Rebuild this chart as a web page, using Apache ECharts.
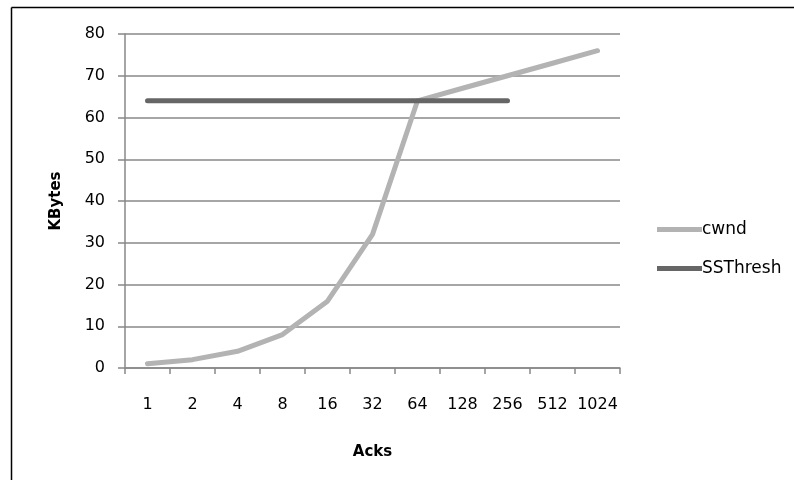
<!DOCTYPE html>
<html>
<head>
<meta charset="utf-8">
<script src="https://cdn.jsdelivr.net/npm/echarts@6/dist/echarts.min.js"></script>
<style>
html,body{margin:0;padding:0;background:#fff;}
#c{width:794px;height:480px;}
</style>
</head>
<body>
<div id="c"></div>
<script>
const categories = ['1','2','4','8','16','32','64','128','256','512','1024'];
const cwnd = [1, 2, 4, 8, 16, 32, 64, 67, 70, 73, 76];
const ssthresh = [64, 64, 64, 64, 64, 64, 64, 64, 64, null, null];
const yTicks = {min: 0, max: 80, interval: 10};

const chart = echarts.init(document.getElementById('c'), null, {renderer: 'canvas'});
const font = 'DejaVu Sans';
chart.setOption({
  animation: false,
  textStyle: {fontFamily: font},
  graphic: [
    {type: 'line', shape: {x1: 11.5, y1: 7.5, x2: 794, y2: 7.5}, style: {stroke: '#000', lineWidth: 1.5}},
    {type: 'line', shape: {x1: 11.5, y1: 7.5, x2: 11.5, y2: 480}, style: {stroke: '#000', lineWidth: 1.5}}
  ],
  grid: {left: 125, top: 34, right: 174, bottom: 112},
  legend: {
    orient: 'vertical', left: 652, top: 216, itemGap: 22,
    itemWidth: 45, itemHeight: 5, icon: 'rect',
    textStyle: {fontFamily: font, fontSize: 17, color: '#000', padding: [0,0,0,-5]},
    data: ['cwnd', 'SSThresh']
  },
  xAxis: {
    type: 'category', data: categories, boundaryGap: true,
    name: 'Acks', nameLocation: 'middle', nameGap: 77,
    nameTextStyle: {fontFamily: font, fontSize: 15, fontWeight: 'bold', color: '#000'},
    axisLine: {lineStyle: {color: '#888', width: 1.5}},
    axisTick: {show: true, length: 6, alignWithLabel: false, lineStyle: {color: '#888', width: 1.5}},
    axisLabel: {fontFamily: font, fontSize: 16, color: '#000', margin: 29, interval: 0}
  },
  yAxis: {
    type: 'value', min: yTicks.min, max: yTicks.max, interval: yTicks.interval,
    name: 'KBytes', nameLocation: 'middle', nameGap: 61, nameRotate: 90,
    nameTextStyle: {fontFamily: font, fontSize: 15, fontWeight: 'bold', color: '#000'},
    axisLine: {show: true, lineStyle: {color: '#888', width: 1.5}},
    axisTick: {show: true, length: 7, lineStyle: {color: '#888', width: 1.5}},
    splitLine: {show: true, lineStyle: {color: '#888', width: 1.5}},
    axisLabel: {fontFamily: font, fontSize: 16, color: '#000', margin: 20}
  },
  series: [
    {name: 'cwnd', type: 'line', data: cwnd, symbol: 'none', smooth: false,
     lineStyle: {color: '#b3b3b3', width: 5, cap: 'round', join: 'round'}, itemStyle: {color: '#b3b3b3'}},
    {name: 'SSThresh', type: 'line', data: ssthresh, symbol: 'none', smooth: false,
     lineStyle: {color: '#666666', width: 5, cap: 'round', join: 'round'}, itemStyle: {color: '#666666'}}
  ]
});
</script>
</body>
</html>
